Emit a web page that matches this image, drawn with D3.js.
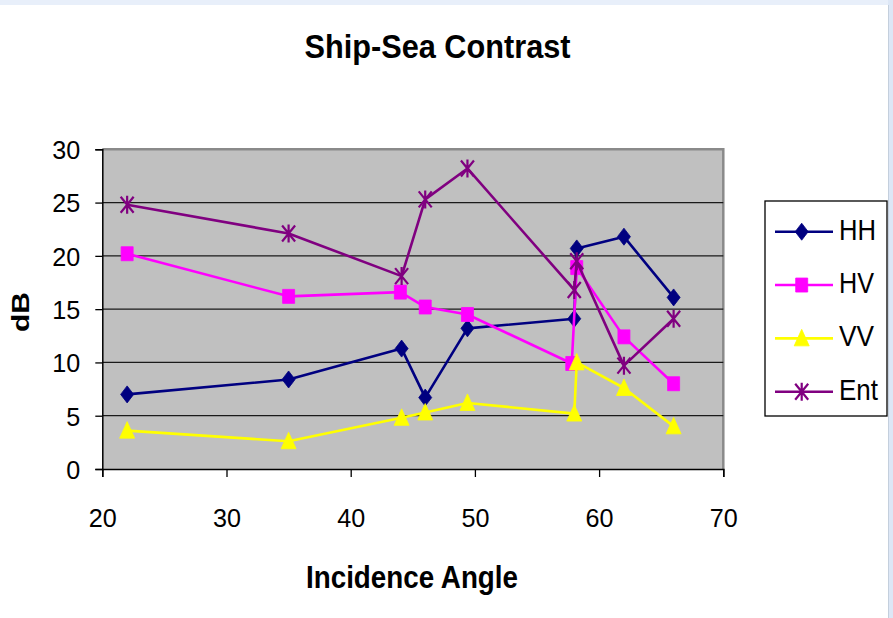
<!DOCTYPE html>
<html>
<head>
<meta charset="utf-8">
<script src="https://cdn.jsdelivr.net/npm/d3@7"></script>
<style>
  html, body { margin: 0; padding: 0; background: #ffffff; }
  svg { display: block; }
  text { font-family: "Liberation Sans", Arial, sans-serif; fill: #000; }
</style>
</head>
<body>
<svg id="chart" width="893" height="618"></svg>
<script>
// Ship-sea contrast (dB) against incidence angle for each polarisation channel
const hhAngle  = [22, 35, 44.1, 46, 49.4, 58, 58.2, 62, 66];
const hhDb     = [7.0, 8.4, 11.3, 6.7, 13.2, 14.1, 20.7, 21.8, 16.1];
const hvAngle  = [22, 35, 44, 46, 49.4, 57.8, 58.2, 62, 66];
const hvDb     = [20.2, 16.2, 16.6, 15.2, 14.5, 9.9, 18.9, 12.4, 8.0];
const vvAngle  = [22, 35, 44.1, 46, 49.4, 58, 58.2, 62, 66];
const vvDb     = [3.6, 2.6, 4.8, 5.3, 6.2, 5.2, 10.0, 7.6, 4.0];
const entAngle = [22, 35, 44.1, 46, 49.4, 58, 58.2, 62, 66];
const entDb    = [24.8, 22.1, 18.1, 25.3, 28.2, 16.8, 19.5, 9.7, 14.1];

const seriesNames = ["HH", "HV", "VV", "Ent"];
const xTicks = [20, 30, 40, 50, 60, 70];
const yTicks = [0, 5, 10, 15, 20, 25, 30];

const series = [
  { name: seriesNames[0], x: hhAngle,  y: hhDb,  color: "#000080", marker: "diamond",  labelLen: 37 },
  { name: seriesNames[1], x: hvAngle,  y: hvDb,  color: "#FF00FF", marker: "square",   labelLen: 35 },
  { name: seriesNames[2], x: vvAngle,  y: vvDb,  color: "#FFFF00", marker: "triangle", labelLen: 35 },
  { name: seriesNames[3], x: entAngle, y: entDb, color: "#800080", marker: "star",     labelLen: 39 }
];

const svg = d3.select("#chart");
const W = 893, H = 618;

// window frame bands
svg.append("rect").attr("x", 0).attr("y", 0).attr("width", W).attr("height", 5).attr("fill", "#e8effa");
svg.append("rect").attr("x", 888).attr("y", 0).attr("width", 5).attr("height", H).attr("fill", "#dde7f6");
svg.append("line").attr("x1", 888.5).attr("x2", 888.5).attr("y1", 5).attr("y2", H)
  .attr("stroke", "#c4cfdd").attr("stroke-width", 1);

const plot = { left: 102.3, right: 723.3, top: 149.3, bottom: 469 };

const x = d3.scaleLinear().domain([20, 70]).range([plot.left, plot.right]);
const y = d3.scaleLinear().domain([0, 30]).range([plot.bottom, plot.top]);

// plot background
svg.append("rect")
  .attr("x", plot.left).attr("y", plot.top)
  .attr("width", plot.right - plot.left).attr("height", plot.bottom - plot.top)
  .attr("fill", "#C0C0C0");

// grey frame on top and right
svg.append("path")
  .attr("d", `M${plot.left},${plot.top}H${plot.right}V${plot.bottom}`)
  .attr("fill", "none").attr("stroke", "#8a8a8a").attr("stroke-width", 2.5);

// horizontal gridlines
svg.append("g").selectAll("line")
  .data(yTicks.filter(t => t > 0 && t < 30))
  .join("line")
  .attr("x1", plot.left).attr("x2", plot.right)
  .attr("y1", d => y(d)).attr("y2", d => y(d))
  .attr("stroke", "#1a1a1a").attr("stroke-width", 1.3);

// tick label width scales with digit count
const digitWidth = 14;
const labelLength = d => String(d).length * digitWidth;

// axes
const yAxis = d3.axisLeft(y).tickValues(yTicks).tickSize(7).tickPadding(14).tickFormat(d3.format("d"));
const gy = svg.append("g").attr("transform", `translate(${plot.left},0)`).call(yAxis);
gy.select(".domain").attr("stroke", "#000").attr("stroke-width", 1.5);
gy.selectAll(".tick line").attr("stroke", "#000").attr("stroke-width", 1.3);
gy.selectAll(".tick text")
  .attr("font-size", 26).attr("font-family", "'Liberation Sans', Arial, sans-serif")
  .attr("fill", "#000").attr("dy", "0.36em").attr("x", -22)
  .attr("textLength", d => labelLength(d)).attr("lengthAdjust", "spacingAndGlyphs");

const xAxis = d3.axisBottom(x).tickValues(xTicks).tickSize(8).tickPadding(28).tickFormat(d3.format("d"));
const gx = svg.append("g").attr("transform", `translate(0,${plot.bottom})`).call(xAxis);
gx.select(".domain").attr("stroke", "#000").attr("stroke-width", 1.5);
gx.selectAll(".tick line").attr("stroke", "#000").attr("stroke-width", 1.3);
gx.selectAll(".tick text")
  .attr("font-size", 26).attr("font-family", "'Liberation Sans', Arial, sans-serif")
  .attr("fill", "#000").attr("dy", null).attr("y", 58)
  .attr("textLength", d => labelLength(d)).attr("lengthAdjust", "spacingAndGlyphs");

// marker shapes (slightly taller than wide)
function markerPath(kind) {
  switch (kind) {
    case "diamond":  return "M0,-8.5L6.5,0L0,8.5L-6.5,0Z";
    case "square":   return "M-6,-7H6V7H-6Z";
    case "triangle": return "M0,-9L7.5,7.5H-7.5Z";
    case "star":     return "M-6.5,-8L6.5,8M-6.5,8L6.5,-8M0,-9V9";
  }
}

const line = d3.line().x(d => x(d[0])).y(d => y(d[1]));

series.forEach(s => {
  const pts = s.x.map((a, i) => [a, s.y[i]]);
  const g = svg.append("g");
  g.append("path").datum(pts)
    .attr("d", line).attr("fill", "none")
    .attr("stroke", s.color).attr("stroke-width", 2.6).attr("stroke-linejoin", "round");
  g.selectAll("path.m").data(pts).join("path")
    .attr("class", "m")
    .attr("transform", d => `translate(${x(d[0])},${y(d[1])})`)
    .attr("d", markerPath(s.marker))
    .attr("fill", s.marker === "star" ? "none" : s.color)
    .attr("stroke", s.color)
    .attr("stroke-width", s.marker === "star" ? 2.2 : 0.8);
});

// title and axis titles
svg.append("text").attr("x", 437.5).attr("y", 58).attr("text-anchor", "middle")
  .attr("font-size", 34).attr("font-weight", "bold")
  .attr("textLength", 266).attr("lengthAdjust", "spacingAndGlyphs")
  .text("Ship-Sea Contrast");

svg.append("text").attr("x", 412).attr("y", 588).attr("text-anchor", "middle")
  .attr("font-size", 32).attr("font-weight", "bold")
  .attr("textLength", 212).attr("lengthAdjust", "spacingAndGlyphs")
  .text("Incidence Angle");

svg.append("text")
  .attr("transform", "translate(29,312) rotate(-90)")
  .attr("text-anchor", "middle")
  .attr("font-size", 23).attr("font-weight", "bold")
  .attr("textLength", 40).attr("lengthAdjust", "spacingAndGlyphs")
  .text("dB");

// legend
const lg = svg.append("g");
lg.append("rect").attr("x", 765).attr("y", 201).attr("width", 122).attr("height", 215)
  .attr("fill", "#ffffff").attr("stroke", "#000").attr("stroke-width", 1.3);

const legendY = d3.scalePoint().domain(seriesNames).range([231.7, 391.7]);
series.forEach(s => {
  const cy = legendY(s.name);
  lg.append("line").attr("x1", 775).attr("x2", 833).attr("y1", cy).attr("y2", cy)
    .attr("stroke", s.color).attr("stroke-width", 2.6);
  lg.append("path").attr("transform", `translate(801.7,${cy})`)
    .attr("d", markerPath(s.marker))
    .attr("fill", s.marker === "star" ? "none" : s.color)
    .attr("stroke", s.color)
    .attr("stroke-width", s.marker === "star" ? 2.2 : 0.8);
  lg.append("text").attr("x", 839).attr("y", cy + 7.8)
    .attr("font-size", 30)
    .attr("textLength", s.labelLen).attr("lengthAdjust", "spacingAndGlyphs")
    .text(s.name);
});
</script>
</body>
</html>
